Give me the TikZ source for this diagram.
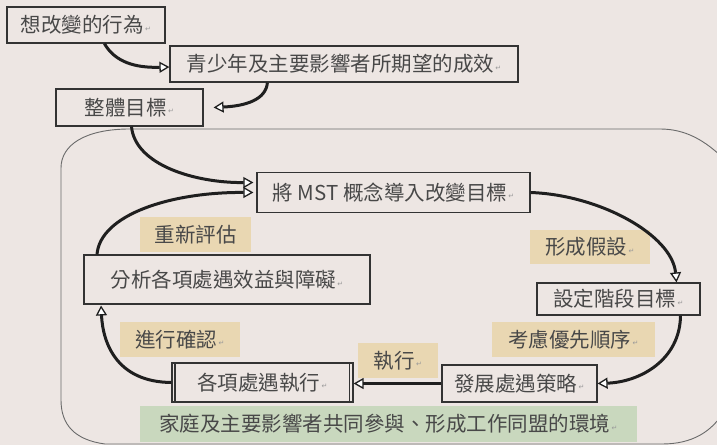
\documentclass[tikz,border=0pt]{standalone}
\usepackage{fontspec}
\setmainfont{Noto Sans CJK TC}
\newfontfamily\dvfont{DejaVu Sans}
\usetikzlibrary{arrows.meta}
\definecolor{bg}{HTML}{EDE6E3}
\definecolor{tanfill}{HTML}{E9D7B2}
\definecolor{grnfill}{HTML}{C9D8BE}
\definecolor{txt}{HTML}{484848}
\definecolor{edgec}{HTML}{333333}
\definecolor{framec}{HTML}{6A6A6A}
\newcommand{\parmark}{{\dvfont\fontsize{7bp}{7bp}\selectfont\color{gray!80}\,\raisebox{1.5bp}{↵}}}
\tikzset{
  box/.style={draw=edgec, line width=1.2bp, inner sep=0pt, text=txt,
    font=\fontsize{20.5bp}{24bp}\selectfont},
  lbl/.style={fill=#1, draw=none, inner sep=0pt, text=txt,
    font=\fontsize{20.5bp}{24bp}\selectfont},
  arr/.style={line width=3bp, draw=black!88,
    -{Triangle[fill=white, length=10bp, width=11bp, line width=1.3bp]}},
  frame/.style={draw=framec, line width=0.9bp}
}
\begin{document}
\begin{tikzpicture}[x=1bp, y=-1bp]
\useasboundingbox (0,0) rectangle (717,445);
\fill[bg] (0,0) rectangle (717,445);
% big rounded frame
\begin{scope}
\clip (0,0) rectangle (717,445);
\draw[frame] (61,400) -- (61,168) .. controls (61,145) and (85,129) .. (130,129)
  -- (660,129) .. controls (685,129) and (705,140) .. (725,160)
  -- (725,410) .. controls (712,432) and (692,444) .. (662,444)
  -- (105,444) .. controls (75,440) and (61,425) .. (61,400);
\end{scope}
% boxes
\node[box, minimum width=158bp, minimum height=36bp] (b1) at (86,25) {想改變的行為\parmark};
\node[box, minimum width=348bp, minimum height=36bp] (b2) at (344,64) {青少年及主要影響者所期望的成效\parmark};
\node[box, minimum width=147bp, minimum height=37bp] (b3) at (129.5,107.5) {整體目標\parmark};
\node[box, minimum width=273bp, minimum height=40bp] (mst) at (393.5,192.5) {將 MST 概念導入改變目標\parmark};
\node[box, minimum width=163bp, minimum height=32bp] (set) at (618.5,299) {設定階段目標\parmark};
\node[box, line width=2bp, minimum width=286bp, minimum height=49bp] (ana) at (227,280) {分析各項處遇效益與障礙\parmark};
\node[box, minimum width=181bp, minimum height=39bp] (exe) at (262.5,382.5) {各項處遇執行\parmark};
\draw[edgec, line width=1.2bp] ([xshift=3.5bp]exe.north west) -- ([xshift=3.5bp]exe.south west);
\draw[edgec, line width=1.2bp] ([xshift=-4.5bp]exe.north east) -- ([xshift=-4.5bp]exe.south east);
\node[box, minimum width=155bp, minimum height=37bp] (dev) at (519.5,383.5) {發展處遇策略\parmark};
% labels
\node[lbl=tanfill, minimum width=111bp, minimum height=35bp] (re) at (195.5,235) {重新評估};
\node[lbl=tanfill, minimum width=120bp, minimum height=34bp] (hyp) at (590,247) {形成假設\parmark};
\node[lbl=tanfill, minimum width=163bp, minimum height=35bp] (pri) at (573.5,339.5) {考慮優先順序\parmark};
\node[lbl=tanfill, minimum width=120bp, minimum height=35bp] (conf) at (180,339.5) {進行確認\parmark};
\node[lbl=tanfill, minimum width=80bp, minimum height=35bp] (do) at (398,360.5) {執行\parmark};
\node[lbl=grnfill, minimum width=497bp, minimum height=36bp] (env) at (388.5,424) {家庭及主要影響者共同參與、形成工作同盟的環境\parmark};
% connectors
\draw[arr] ([xshift=98bp]b1.south west) .. controls (115,62) and (135,68) .. ([yshift=-3bp]b2.west);
\draw[arr] ([xshift=98bp]b2.south west) .. controls (266,100) and (245,106) .. ([xshift=10bp]b3.east);
\draw[arr] ([xshift=2bp]b3.south) .. controls (135,165) and (195,183) .. ([xshift=-3bp,yshift=10bp]mst.west);
\draw[arr] ([xshift=14bp]ana.north west) .. controls (100,215) and (170,192) .. ([xshift=-3bp]mst.west);
\draw[arr] (mst.east) .. controls (600,195) and (672,235) .. ([xshift=58bp]set.north);
\draw[arr] ([xshift=62bp]set.south) .. controls (680,360) and (640,382) .. (dev.east);
\draw[arr] (dev.west) -- (dev.west -| exe.east);
\draw[arr] (exe.west) .. controls (118,382) and (103,345) .. ([xshift=18bp]ana.south west);
\end{tikzpicture}
\end{document}
